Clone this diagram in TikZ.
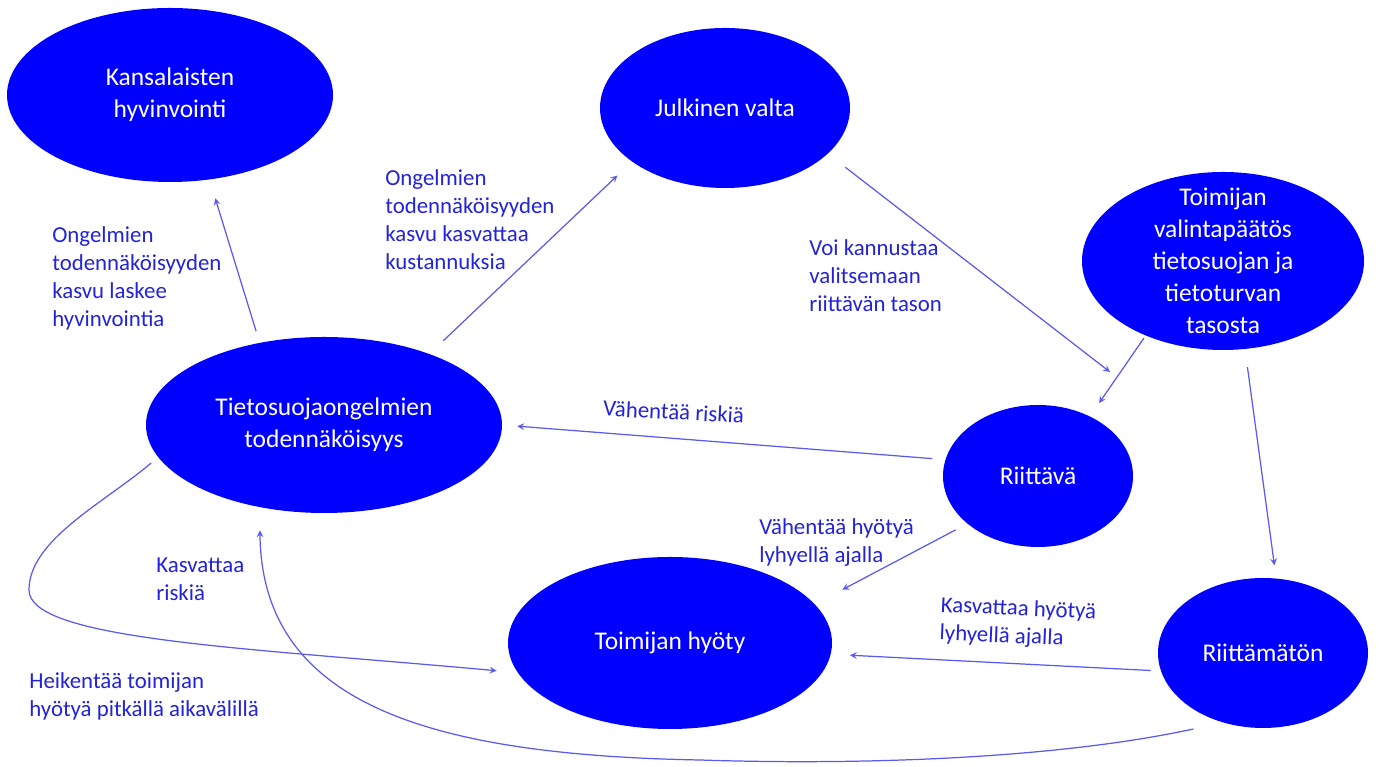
\documentclass[tikz,border=0pt]{standalone}
\usepackage{fontspec}
\setmainfont{Carlito}
\usepackage{tikz}
\usetikzlibrary{shapes,arrows,positioning}
\definecolor{ovalblue}{RGB}{0,0,255}
\definecolor{linkblue}{RGB}{90,90,240}
\definecolor{notecolor}{RGB}{35,35,215}

\begin{document}
\begin{tikzpicture}[
    oval/.style={ellipse, fill=ovalblue, inner sep=0pt},
    ovaltext/.style={text=white, align=center, inner sep=0pt, font=\fontsize{14.5}{18.2}\selectfont},
    note/.style={anchor=west, align=left, text=notecolor, inner sep=0pt, font=\fontsize{13}{15.9}\selectfont},
    arrow/.style={->, >=stealth, linkblue, line width=0.7pt}
]
\useasboundingbox[fill=white] (0,0) rectangle (27.68,15.34);

% Ellipses
\node[oval, minimum width=6.52cm, minimum height=3.48cm, label={[ovaltext]center:Kansalaisten\\hyvinvointi}] (kansal) at (3.40,13.44) {};
\node[oval, minimum width=5.0cm, minimum height=3.2cm, label={[ovaltext]center:Julkinen valta}] (julk) at (14.50,13.18) {};
\node[oval, minimum width=5.64cm, minimum height=3.56cm, label={[ovaltext]center:Toimijan\\valintapäätös\\tietosuojan ja\\tietoturvan\\tasosta}] (valinta) at (24.46,10.12) {};
\node[oval, minimum width=7.12cm, minimum height=3.52cm, label={[ovaltext]center:Tietosuojaongelmien\\todennäköisyys}] (tieto) at (6.48,6.84) {};
\node[oval, minimum width=3.8cm, minimum height=2.84cm, label={[ovaltext]center:Riittävä}] (riit) at (20.76,5.82) {};
\node[oval, minimum width=6.48cm, minimum height=3.44cm, label={[ovaltext]center:Toimijan hyöty}] (hyoty) at (13.40,2.48) {};
\node[oval, minimum width=4.2cm, minimum height=3.0cm, label={[ovaltext]center:Riittämätön}] (riitm) at (25.26,2.28) {};

% free end of the arrow towards Riittävä
\coordinate (riitin) at (22.20,7.90);

% Straight arrows
\draw[arrow, shorten <=0.24cm, shorten >=0.39cm] (tieto.128) -- (kansal.295);
\draw[arrow, shorten <=0.38cm, shorten >=0.40cm] (tieto.34) -- (julk.210);
\draw[arrow, shorten <=0.44cm] (julk.336) -- (riitin);
\draw[arrow, shorten <=0.06cm, shorten >=0.32cm] (valinta.224) -- (riit.49);
\draw[arrow, shorten <=0.36cm, shorten >=0.26cm] (valinta.284) -- (riitm.80);
\draw[arrow, shorten <=0.26cm, shorten >=0.30cm] (riit.170) -- (tieto.0);
\draw[arrow, shorten <=0.26cm, shorten >=0.62cm] (riit.214) -- (hyoty.15);
\draw[arrow, shorten <=0.20cm, shorten >=0.38cm] (riitm.190) -- (hyoty.356);

% Curved arrows
\draw[arrow, shorten <=0.18cm, shorten >=0.42cm] (tieto.191) .. controls (2.08,5.28) and (0.58,4.54) .. (0.58,3.54)
    .. controls (0.58,2.54) and (4.96,2.38) .. (hyoty.191);
\draw[arrow, shorten <=0.6cm, shorten >=0.46cm] (riitm.240) .. controls (21.0,0.14) and (17.0,0.04) .. (14.0,0.14)
    .. controls (8.4,0.24) and (5.24,1.34) .. (tieto.232);

% Labels
\node[note] (n1) at (1.04,9.77) {Ongelmien\\todennäköisyyden\\kasvu laskee\\hyvinvointia};
\node[note] (n2) at (7.70,10.94) {Ongelmien\\todennäköisyyden\\kasvu kasvattaa\\kustannuksia};
\node[note] (n3) at (16.18,9.83) {Voi kannustaa\\valitsemaan\\riittävän tason};
\node[note, rotate=-3] (n4) at (12.06,7.18) {Vähentää riskiä};
\node[note] (n5) at (15.18,4.49) {Vähentää hyötyä\\lyhyellä ajalla};
\node[note, rotate=-2.5] (n6) at (18.80,2.94) {Kasvattaa hyötyä\\lyhyellä ajalla};
\node[note] (n7) at (3.12,3.76) {Kasvattaa\\riskiä};
\node[note] (n8) at (0.58,1.42) {Heikentää toimijan\\hyötyä pitkällä aikavälillä};

\end{tikzpicture}
\end{document}
